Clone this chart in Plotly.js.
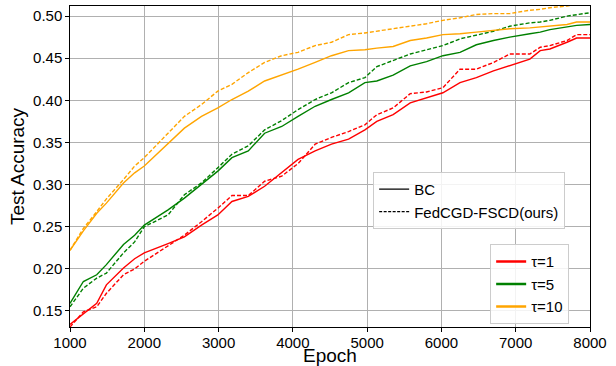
<!DOCTYPE html>
<html>
<head>
<meta charset="utf-8">
<script src="https://cdn.plot.ly/plotly-3.0.1.min.js"></script>
<style>html,body{margin:0;padding:0;background:#fff;}#chart{width:616px;height:366px;}</style>
</head>
<body>
<div id="chart"></div>
<script>
const epochs = [1000,1180,1360,1490,1720,1870,2000,2320,2540,2770,2990,3180,3400,3620,3850,4070,4300,4520,4750,4970,5130,5350,5580,5800,6020,6250,6470,6700,6920,7190,7330,7460,7690,7820,8000];

const tau10_bc  = [0.222,0.245,0.266,0.278,0.302,0.314,0.322,0.349,0.367,0.381,0.391,0.401,0.411,0.423,0.430,0.437,0.445,0.453,0.459,0.460,0.462,0.464,0.471,0.474,0.478,0.479,0.481,0.483,0.485,0.486,0.487,0.488,0.490,0.493,0.493];
const tau10_fed = [0.222,0.248,0.268,0.283,0.306,0.322,0.332,0.361,0.381,0.395,0.411,0.419,0.433,0.445,0.453,0.457,0.465,0.469,0.478,0.480,0.482,0.485,0.488,0.491,0.495,0.498,0.502,0.503,0.503,0.507,0.508,0.510,0.512,0.514,0.516];
const tau5_bc   = [0.159,0.185,0.193,0.205,0.229,0.240,0.252,0.270,0.284,0.300,0.316,0.332,0.340,0.361,0.369,0.381,0.393,0.401,0.409,0.421,0.423,0.430,0.441,0.446,0.453,0.457,0.466,0.471,0.475,0.479,0.481,0.484,0.487,0.489,0.490];
const tau5_fed  = [0.155,0.177,0.189,0.195,0.219,0.232,0.250,0.264,0.288,0.302,0.320,0.336,0.346,0.365,0.376,0.389,0.401,0.409,0.421,0.427,0.440,0.447,0.455,0.460,0.465,0.473,0.477,0.482,0.488,0.492,0.493,0.495,0.500,0.502,0.504];
const tau1_bc   = [0.134,0.147,0.159,0.181,0.201,0.212,0.219,0.230,0.238,0.252,0.264,0.280,0.286,0.298,0.314,0.330,0.340,0.348,0.354,0.365,0.375,0.383,0.397,0.403,0.409,0.421,0.427,0.435,0.441,0.449,0.459,0.461,0.469,0.474,0.474];
const tau1_fed  = [0.131,0.149,0.155,0.171,0.193,0.200,0.209,0.227,0.240,0.256,0.272,0.287,0.287,0.304,0.310,0.325,0.348,0.356,0.363,0.371,0.383,0.391,0.408,0.410,0.415,0.437,0.437,0.445,0.455,0.455,0.463,0.465,0.471,0.478,0.478];

const xTicks = [1000,2000,3000,4000,5000,6000,7000,8000];
const yTicks = [0.15,0.20,0.25,0.30,0.35,0.40,0.45,0.50];

const RED = '#ff0000', GREEN = '#008000', ORANGE = '#ffa500';
const DASH = '4px,2px';

function series(y, color, dashed) {
  return {x: epochs, y: y, type: 'scatter', mode: 'lines', line: {color: color, width: 1.4, shape: 'linear', dash: dashed ? DASH : 'solid'}, showlegend: false, hoverinfo: 'skip'};
}

const data = [
  series(tau1_bc, RED, false), series(tau1_fed, RED, true),
  series(tau5_bc, GREEN, false), series(tau5_fed, GREEN, true),
  series(tau10_bc, ORANGE, false), series(tau10_fed, ORANGE, true),
  {x:[null], y:[null], type:'scatter', mode:'lines', name:'BC', line:{color:'#000', width:1.2}, legend:'legend'},
  {x:[null], y:[null], type:'scatter', mode:'lines', name:'FedCGD-FSCD(ours)', line:{color:'#000', width:1.2, dash:'3px,1.5px'}, legend:'legend'},
  {x:[null], y:[null], type:'scatter', mode:'lines', name:'τ=1', line:{color:RED, width:2.6}, legend:'legend2'},
  {x:[null], y:[null], type:'scatter', mode:'lines', name:'τ=5', line:{color:GREEN, width:2.6}, legend:'legend2'},
  {x:[null], y:[null], type:'scatter', mode:'lines', name:'τ=10', line:{color:ORANGE, width:2.6}, legend:'legend2'}
];

const FAM = 'Liberation Sans, Arial, sans-serif';
const axisCommon = {
  showline: true, linecolor: '#000', linewidth: 1.2, mirror: true,
  ticks: 'outside', ticklen: 3.5, tickwidth: 1, tickcolor: '#000',
  showgrid: true, gridcolor: '#b0b0b0', gridwidth: 1, zeroline: false,
  tickfont: {family: FAM, size: 15, color: '#000'}
};

const layout = {
  width: 616, height: 366,
  margin: {l: 70, r: 26, t: 6, b: 39},
  paper_bgcolor: '#fff', plot_bgcolor: '#fff',
  font: {family: FAM, color: '#000'},
  xaxis: Object.assign({}, axisCommon, {
    range: [1000, 8000], tickvals: xTicks, ticktext: xTicks.map(String),
    ticklabelstandoff: -2,
    title: {text: 'Epoch', font: {family: FAM, size: 19, color: '#000'}, standoff: 2}
  }),
  yaxis: Object.assign({}, axisCommon, {
    range: [0.131, 0.512], tickvals: yTicks, ticktext: yTicks.map(v => v.toFixed(2)),
    title: {text: 'Test Accuracy', font: {family: FAM, size: 19, color: '#000'}, standoff: 3}
  }),
  legend: {
    x: 0.583, xanchor: 'left', y: 0.483, yanchor: 'top',
    bgcolor: 'rgba(255,255,255,0.85)', bordercolor: '#cccccc', borderwidth: 1,
    font: {family: FAM, size: 15, color: '#000'}, itemwidth: 30, tracegroupgap: 0
  },
  legend2: {
    x: 0.808, xanchor: 'left', y: 0.258, yanchor: 'top',
    bgcolor: 'rgba(255,255,255,0.85)', bordercolor: '#cccccc', borderwidth: 1,
    font: {family: FAM, size: 15, color: '#000'}, itemwidth: 30, tracegroupgap: 0
  }
};

Plotly.newPlot('chart', data, layout, {displayModeBar: false, staticPlot: true});
</script>
</body>
</html>
